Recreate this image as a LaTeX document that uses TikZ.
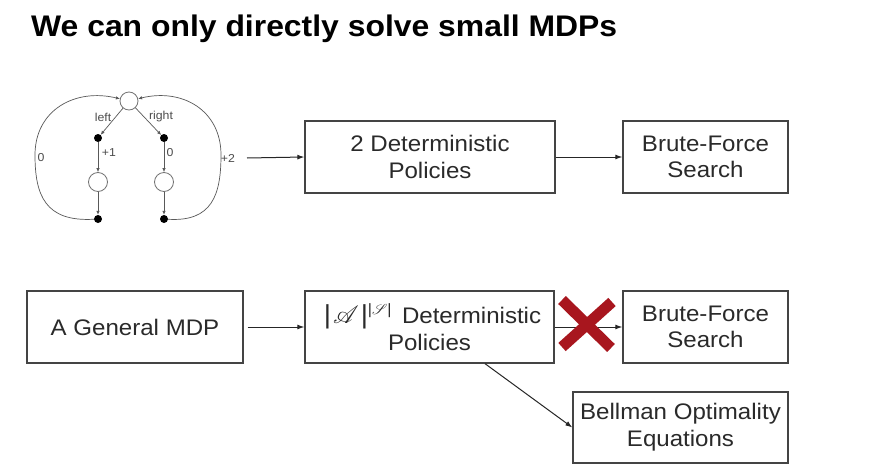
\documentclass[tikz,border=0pt]{standalone}
\usepackage{fontspec}
\setmainfont[FakeStretch=1.07]{Liberation Sans}
\usepackage{mathrsfs}
\usetikzlibrary{arrows.meta,calc}

\definecolor{boxline}{HTML}{444444}
\definecolor{txt}{HTML}{2A2A2A}
\definecolor{xred}{HTML}{A8161E}

\begin{document}
\begin{tikzpicture}[x=1pt,y=-1pt,
 box/.style={draw=boxline,line width=1.3pt,minimum height=72pt,inner sep=0pt,align=center,font=\fontsize{22.5}{26.7}\selectfont,text=txt},
 arr/.style={-{Latex[length=7pt,width=5pt]},line width=1pt,draw=black!85},
 st/.style={circle,draw=black!55,fill=white,line width=0.8pt,minimum size=18pt,inner sep=0pt},
 dot/.style={circle,fill=black,minimum size=8pt,inner sep=0pt},
 marr/.style={-{Latex[length=4pt,width=3.5pt]},line width=0.7pt,draw=black!65},
 lab/.style={font=\fontsize{11.5}{13}\selectfont,text=black!70,inner sep=0pt},
 xstroke/.style={draw=xred,line width=11pt}]

\fill[white] (0,0) rectangle (895,474);
\useasboundingbox (0,0) rectangle (895,474);

% title
\node[anchor=base west,inner sep=0pt,font=\bfseries\fontsize{29.8}{34}\selectfont] (title) at (31,36) {We can only directly solve small MDPs};

% small MDP
\node[st] (s0) at (129,101) {};
\node[dot] (a1) at (98,138) {};
\node[dot] (a2) at (164,138) {};
\node[st,minimum size=19pt] (s1) at (98,182) {};
\node[st,minimum size=19pt] (s2) at (164,182) {};
\node[dot] (b1) at (98,219) {};
\node[dot] (b2) at (164,219) {};
\draw[marr] (s0) -- (a1);
\draw[marr] (s0) -- (a2);
\draw[marr] (a1) -- (s1);
\draw[marr] (a2) -- (s2);
\draw[marr] (s1) -- (b1);
\draw[marr] (s2) -- (b2);
\draw[marr] (b1) .. controls (45,222) and (35,195) .. (35,155) .. controls (35,110) and (75,88) .. (s0);
\draw[marr] (b2) .. controls (212,222) and (221,195) .. (221,155) .. controls (221,110) and (182,88) .. (s0);
\node[lab] (lleft) at (103,117) {left};
\node[lab] (lright) at (161,117) {right};
\node[lab] (lp1) at (109,153) {+1};
\node[lab] (lz1) at (170,153) {0};
\node[lab] (lz0) at (41,158) {0};
\node[lab] (lp2) at (228,158) {+2};

% boxes
\node[box,minimum width=250pt] (p1) at (430,157) {2 Deterministic\\Policies};
\node[box,minimum width=165pt] (b1box) at (705.5,157) {Brute-Force\\Search};
\node[box,minimum width=216pt] (gen) at (135,327) {A General MDP};
\node[box,minimum width=249pt] (p2) at (429.5,327) {\hspace*{6pt}{\fontsize{26}{26}\selectfont|\kern2pt{\fontsize{30}{30}\selectfont$\mathscr{A}$}\kern2pt|}\raisebox{9pt}{\fontsize{15}{15}\selectfont|$\mathscr{S}$|}\ \,Deterministic\\Policies};
\node[box,minimum width=165pt] (b2box) at (705.5,327) {Brute-Force\\Search};
\node[box,minimum width=215pt,minimum height=71pt] (bell) at (680.5,427.5) {Bellman Optimality\\Equations};

% connectors
\coordinate (m0) at (247,158);
\draw[arr] (m0) -- (p1.west);
\draw[arr] (p1.east) -- (b1box.west);
\coordinate (g0) at ([xshift=4pt]gen.east);
\draw[arr] (g0) -- (p2.west);
\draw[arr] (p2.east) -- (b2box.west);
\coordinate (d0) at ([xshift=55.5pt]p2.south);
\draw[arr] (d0) -- (bell.west);

% red cross
\coordinate (x1) at (562,300);
\coordinate (x2) at (611,348);
\coordinate (x3) at (612,302);
\coordinate (x4) at (562,347);
\draw[xstroke] (x1) -- (x2);
\draw[xstroke] (x3) -- (x4);
\end{tikzpicture}
\end{document}
